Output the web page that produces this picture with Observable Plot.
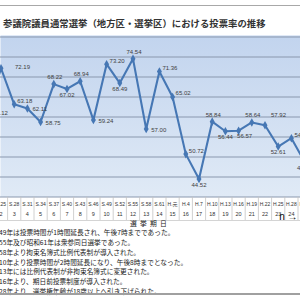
<!DOCTYPE html>
<html><head><meta charset="utf-8">
<script src="https://cdn.jsdelivr.net/npm/d3@7"></script>
<script src="https://cdn.jsdelivr.net/npm/@observablehq/plot@0.6"></script>
<style>
html,body{margin:0;padding:0;background:#fff;}
body{width:300px;height:300px;overflow:hidden;position:relative;font-family:"Noto Sans CJK JP",sans-serif;}
.abs{position:absolute;}
#topline{top:4.5px;left:0;width:300px;height:1px;background:#a8a8a8;}
#title{top:17px;left:3px;font-size:9.4px;line-height:12px;font-weight:bold;color:#333;white-space:nowrap;}
#chart{top:35px;left:0;width:300px;}
#xlabel{top:220.3px;left:130px;font-size:6.8px;line-height:7px;letter-spacing:3.2px;color:#222;white-space:nowrap;}
#notes{top:228.3px;left:-1px;font-size:6.7px;line-height:9.75px;color:#222;white-space:nowrap;}
#bottomline{top:293px;left:0;width:300px;height:1.5px;background:#a0a0a0;}
.hl{left:0;width:300px;height:0.8px;background:#d4d4d4;}
</style></head>
<body>
<div id="topline" class="abs"></div>
<div id="title" class="abs">参議院議員通常選挙（地方区・選挙区）における投票率の推移</div>
<div id="chart" class="abs"></div>
<div class="abs hl" style="top:219.8px"></div>
<div id="xlabel" class="abs">選挙期日</div>
<div id="notes" class="abs"></div>
<div id="bottomline" class="abs"></div>
<script>
const elections = [1,2,3,4,5,6,7,8,9,10,11,12,13,14,15,16,17,18,19,20,21,22,23,24,25];
const turnout = [61.12,72.19,63.18,62.11,58.75,68.22,67.02,68.94,59.24,73.20,68.49,74.54,57.00,71.36,65.02,50.72,44.52,58.84,56.44,56.57,58.64,57.92,52.61,54.70,48.80];
const eraLabels = ["S.22","S.25","S.28","S.31","S.34","S.37","S.40","S.43","S.46","S.49","S.52","S.55","S.58","S.61","H.元","H.4","H.7","H.10","H.13","H.16","H.19","H.22","H.25","H.28","R.元"];
const yTicks = [40,45,50,55,60,65,70,75,80];
const labelPos = ["r","R","ar","r","r","a","b","a","r","ar","b","a","r","ar","ar","ar","b","a","b","br","a","AR","b","ar","b"];
const notes = [
  "49年は投票時間が1時間延長され、午後7時までであった。",
  "55年及び昭和61年は衆参同日選挙であった。",
  "58年より拘束名簿式比例代表制が導入された。",
  "10年より投票時間が2時間延長になり、午後8時までとなった。",
  "13年には比例代表制が非拘束名簿式に変更された。",
  "16年より、期日前投票制度が導入された。",
  "28年より、選挙権年齢が18歳以上へ引き下げられた。"
];

document.getElementById("notes").innerHTML = notes.map(s => `<div>${s}</div>`).join("");

const data = elections.map((n, i) => ({n, v: turnout[i], pos: labelPos[i]}));
const place = {
  r:  {dx: 5,  dy: 1,    textAnchor: "start"},
  R:  {dx: 14, dy: -1.5, textAnchor: "start"},
  ar: {dx: 3,  dy: -3.5, textAnchor: "start"},
  AR: {dx: 6,  dy: -10,  textAnchor: "start"},
  a:  {dx: 1,  dy: -7,   textAnchor: "middle"},
  b:  {dx: 0,  dy: 6,    textAnchor: "middle"},
  br: {dx: 6,  dy: 5.8,  textAnchor: "middle"}
};
const lineColor = "#4677b4";
const labelMarks = Object.entries(place).map(([k, o]) =>
  Plot.text(data.filter(d => d.pos === k), {
    x: "n", y: "v", text: d => d.v.toFixed(2),
    fontSize: 6, fill: "#404040", ...o
  })
);
const sepTicks = elections.map(n => n + 0.5);

const svg = Plot.plot({
  width: 300, height: 187,
  marginTop: 0, marginBottom: 25.5, marginLeft: 0, marginRight: 0,
  style: {background: "transparent", fontFamily: "'Liberation Sans','Noto Sans CJK JP',sans-serif", overflow: "hidden"},
  x: {type: "linear", domain: [2, 24], range: [0.5, 0.5 + 22 * 13.2]},
  y: {domain: [40, 80], range: [161.5, 1.5], axis: null},
  marks: [
    Plot.frame({fill: "url(#bgGrad)", stroke: null}),
    Plot.ruleY(yTicks, {stroke: "#8a98ae", strokeWidth: 1.2}),
    Plot.axisX({ticks: sepTicks, anchor: "bottom", tickSize: 23.5, tickFormat: () => "", stroke: "#c4c4c4", strokeWidth: 0.8}),
    Plot.text(elections, {x: d => d, text: (d, i) => eraLabels[i], frameAnchor: "bottom", dy: 8.5, fontSize: 5, fill: "#333"}),
    Plot.text(elections, {x: d => d, text: d => String(d), frameAnchor: "bottom", dy: 18.5, fontSize: 5.5, fill: "#333"}),
    Plot.line(data, {x: "n", y: "v", stroke: lineColor, strokeWidth: 2.1}),
    Plot.dot(data, {x: "n", y: "v", symbol: "diamond", r: 2.6, fill: lineColor, stroke: null}),
    ...labelMarks
  ]
});
const ns = "http://www.w3.org/2000/svg";
const defs = document.createElementNS(ns, "defs");
defs.innerHTML = `<linearGradient id="bgGrad" x1="0" y1="0" x2="0" y2="1">
  <stop offset="0" stop-color="#c2d4ee"/><stop offset="1" stop-color="#e0eaf6"/></linearGradient>`;
svg.insertBefore(defs, svg.firstChild);
document.getElementById("chart").appendChild(svg);
</script>
</body></html>
